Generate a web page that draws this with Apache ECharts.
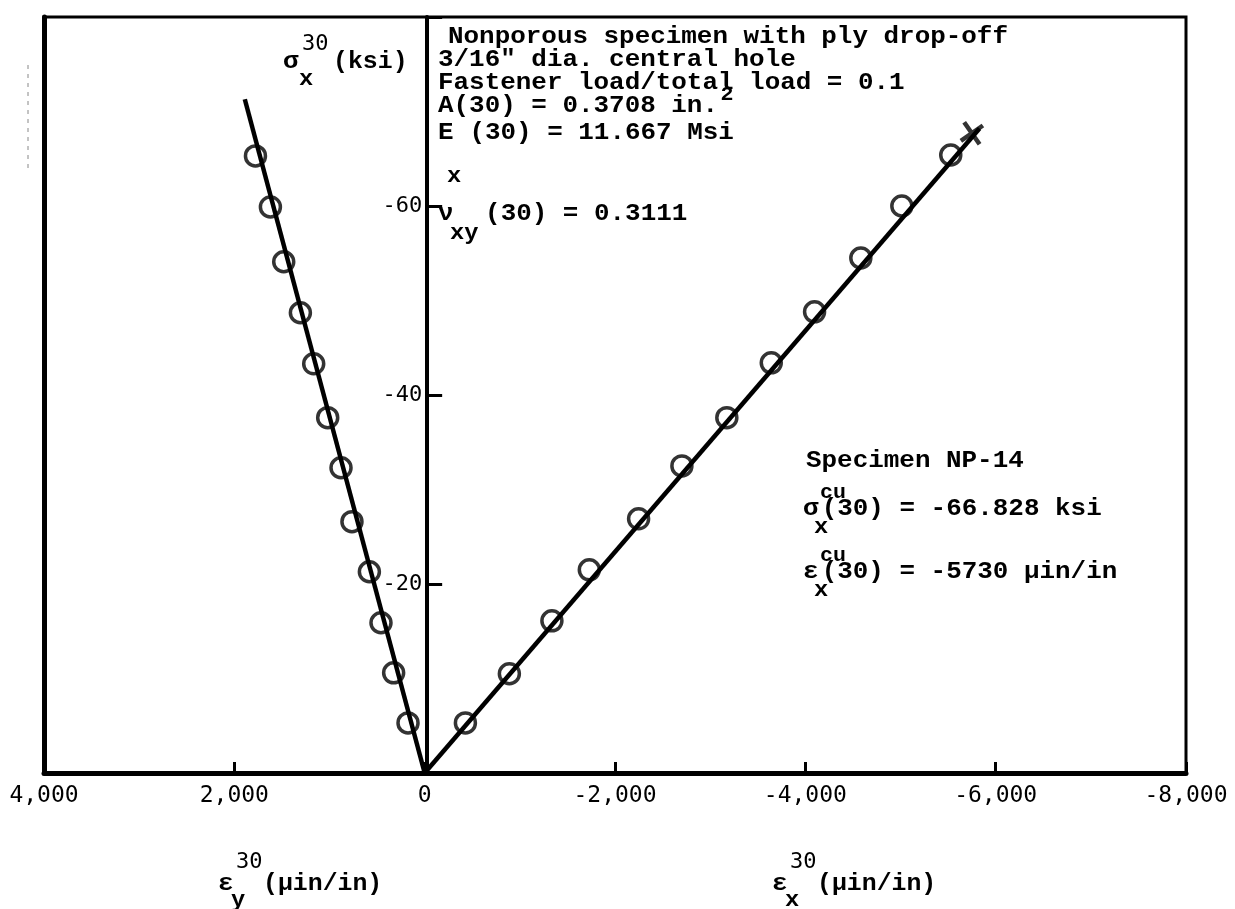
<!DOCTYPE html>
<html>
<head>
<meta charset="utf-8">
<script src="https://cdn.jsdelivr.net/npm/echarts@6/dist/echarts.min.js"></script>
<style>
html,body{margin:0;padding:0;background:#fff;}
#chart{width:1235px;height:909px;}
</style>
</head>
<body>
<div id="chart"></div>
<script>
// ---- data (strain in micro-in/in, stress in ksi) ----
const epsYStrain = [175, 326, 459, 581, 764, 879, 1019, 1166, 1306, 1481, 1621, 1778];
const epsYStress = [-5.3, -10.6, -15.9, -21.3, -26.6, -32.3, -37.6, -43.3, -48.7, -54.1, -59.9, -65.3];
const epsXStrain = [-428, -890, -1337, -1730, -2248, -2703, -3175, -3642, -4097, -4583, -5014, -5528];
const epsXStress = [-5.3, -10.5, -16.1, -21.5, -26.9, -32.5, -37.6, -43.4, -48.8, -54.5, -60.0, -65.4];
const epsYFitStrain = [0, 1890];
const epsYFitStress = [0, -71.3];
const epsXFitStrain = [0, -5830];
const epsXFitStress = [0, -68.2];
const failureStrain = [-5750];
const failureStress = [-67.7];
const xTickValues = [-8000, -6000, -4000, -2000, 0, 2000, 4000];
const xTickLabels = ['-8,000', '-6,000', '-4,000', '-2,000', '0', '2,000', '4,000'];
const yTickValues = [-80, -60, -40, -20, 0];
const yTickLabels = ['', '-60', '-40', '-20', ''];

const pairs = (a, b) => a.map((v, i) => [v, b[i]]);

const MONO = "'Liberation Mono', 'Courier New', monospace";
const SANS = "'DejaVu Sans Mono', monospace";
const CW = 15.7;
const SX = 1.08;

function T(text, x, y, size, family, weight, sx) {
  return {
    type: 'text', x: x, y: y, z: 20, scaleX: sx || 1,
    style: {
      text: text, fill: '#000',
      font: (weight || 'normal') + ' ' + size + 'px ' + family,
      align: 'left', verticalAlign: 'middle'
    }
  };
}
function M(text, x, y, size) { return T(text, x, y, size || 24, MONO, 'bold', SX); }

const chart = echarts.init(document.getElementById('chart'), null, {renderer: 'canvas'});

const GRID_LEFT = 44;

const graphics = [
  // top annotation block
  M('Nonporous specimen with ply drop-off', 448, 37),
  M('3/16" dia. central hole', 438, 60),
  M('Fastener load/total load = 0.1', 438, 83),
  M('A(30) = 0.3708 in.', 438, 106),
  M('2', 438 + 18 * CW, 95, 20),
  M('E', 438, 133),
  M('x', 447, 176, 22),
  M('(30) = 11.667 Msi', 438 + 2 * CW, 133),
  M('\u03bd', 438, 214),
  M('xy', 450, 233, 22),
  M('(30) = 0.3111', 438 + 3 * CW, 214),
  // y axis title
  M('\u03c3', 283, 62),
  T('30', 302, 44, 22, SANS),
  M('x', 299, 79, 22),
  M('(ksi)', 333, 62, 23),
  // specimen block
  M('Specimen NP-14', 806, 461),
  M('\u03c3', 803, 509),
  M('cu', 820, 493, 20),
  M('x', 814, 527, 22),
  M('(30) = -66.828 ksi', 803 + CW + 3, 509),
  M('\u03b5', 803, 572),
  M('cu', 820, 556, 20),
  M('x', 814, 590, 22),
  M('(30) = -5730 \u03bcin/in', 803 + CW + 3, 572),
  // x axis titles
  M('\u03b5', 218, 884),
  T('30', 236, 862, 22, SANS),
  M('y', 231, 900, 22),
  M('(\u03bcin/in)', 263, 884, 23),
  M('\u03b5', 772, 884),
  T('30', 790, 862, 22, SANS),
  M('x', 785, 900, 22),
  M('(\u03bcin/in)', 817, 884, 23),
  // scan artifact at far left
  {type: 'line', z: 5, shape: {x1: 28, y1: 65, x2: 28, y2: 172},
   style: {stroke: '#888', lineWidth: 1, lineDash: [4, 5]}}
];

const xSymbol = 'path://M0,0L10,10M10,0L0,10';

const option = {
  animation: false,
  backgroundColor: '#fff',
  grid: {left: GRID_LEFT, right: 49, top: 17, bottom: 136, show: true, borderColor: '#000', borderWidth: 3, backgroundColor: 'transparent'},
  xAxis: {
    type: 'value', min: -8000, max: 4000, interval: 2000, inverse: true,
    axisLine: {onZero: false, lineStyle: {color: '#000', width: 5}},
    axisTick: {inside: true, length: 11, lineStyle: {color: '#000', width: 3}},
    axisLabel: {
      color: '#000', fontFamily: SANS, fontSize: 23, margin: 12,
      formatter: v => xTickLabels[xTickValues.indexOf(v)]
    },
    splitLine: {show: false}
  },
  yAxis: [{
    type: 'value', min: -80, max: 0, interval: 20, inverse: true, position: 'left', offset: 0,
    axisLine: {onZero: false, lineStyle: {color: '#000', width: 4}},
    axisTick: {inside: true, length: 15, lineStyle: {color: '#000', width: 3}},
    axisLabel: {
      color: '#000', fontFamily: SANS, fontSize: 22, margin: 5,
      formatter: v => yTickLabels[yTickValues.indexOf(v)]
    },
    splitLine: {show: false}
  }, {
    type: 'value', min: -80, max: 0, interval: 20, inverse: true, position: 'left',
    axisLine: {show: true, onZero: false, lineStyle: {color: '#000', width: 5}},
    axisTick: {show: false}, axisLabel: {show: false}, splitLine: {show: false}
  }],
  series: [
    {type: 'line', data: pairs(epsYFitStrain, epsYFitStress), showSymbol: false, symbol: 'none',
     lineStyle: {color: '#000', width: 4.5}, z: 3},
    {type: 'line', data: pairs(epsXFitStrain, epsXFitStress), showSymbol: false, symbol: 'none',
     lineStyle: {color: '#000', width: 4.5}, z: 3},
    {type: 'scatter', data: pairs(epsYStrain, epsYStress), symbol: 'circle', symbolSize: 20,
     itemStyle: {color: 'rgba(0,0,0,0)', borderColor: '#000', borderWidth: 3.5}, z: 4},
    {type: 'scatter', data: pairs(epsXStrain, epsXStress), symbol: 'circle', symbolSize: 20,
     itemStyle: {color: 'rgba(0,0,0,0)', borderColor: '#000', borderWidth: 3.5}, z: 4},
    {type: 'scatter', data: pairs(failureStrain, failureStress), symbol: xSymbol, symbolSize: 19, symbolRotate: -10,
     itemStyle: {color: 'none', borderColor: '#000', borderWidth: 4.5}, z: 5}
  ],
  graphic: graphics
};

chart.setOption(option);
// move the stress axis so that it sits on zero strain
const zeroPx = chart.convertToPixel({xAxisIndex: 0}, 0);
chart.setOption({yAxis: [{offset: -(zeroPx - GRID_LEFT)}, {}]});
</script>
</body>
</html>
